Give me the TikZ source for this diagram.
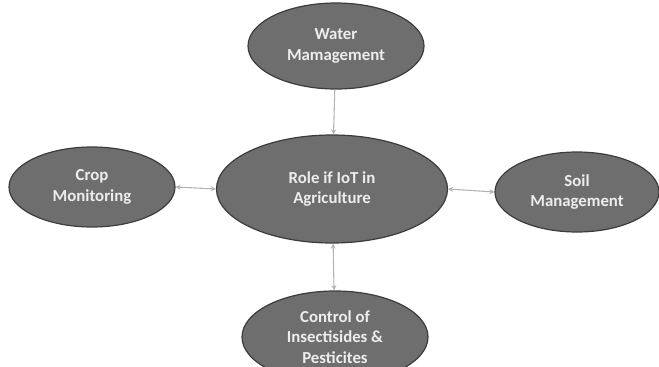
\documentclass[tikz,border=0pt]{standalone}
\usepackage{fontspec}
\setmainfont{Carlito}
\usetikzlibrary{shapes.geometric,arrows.meta}
\definecolor{fillgray}{HTML}{6E6E6E}
\definecolor{edgegray}{HTML}{3C3C3C}
\definecolor{txtgray}{HTML}{EDEDED}
\definecolor{arrgray}{HTML}{B4B4B4}
\begin{document}
\begin{tikzpicture}[x=1pt,y=-1pt,
  blob/.style={ellipse,fill=fillgray,draw=edgegray,line width=1.2pt,
    text=txtgray,font=\fontsize{16.8}{20.5}\selectfont\bfseries,align=center,inner sep=0pt},
  link/.style={draw=arrgray,line width=1.1pt,{Stealth[length=5pt,width=5pt]}-{Stealth[length=5pt,width=5pt]}},
  link1/.style={draw=arrgray,line width=1.1pt,-{Stealth[length=5pt,width=5pt]}}]
\useasboundingbox (0,0) rectangle (659,367);
\clip (0,0) rectangle (659,367);
\node[blob,minimum width=176pt,minimum height=86pt] (water) at (336,46) {Water\\Mamagement};
\node[blob,minimum width=166pt,minimum height=80pt] (crop) at (92,187) {Crop\\Monitoring};
\node[blob,minimum width=231pt,minimum height=108pt] (role) at (332,189) {Role if IoT in\\Agriculture};
\node[blob,minimum width=164pt,minimum height=80pt] (soil) at (577,192) {Soil\\Management};
\node[blob,minimum width=186pt,minimum height=92pt] (ctrl) at (335,337) {Control of\\Insectisides \&\\Pesticites};
\draw[link1] (water) -- (role);
\draw[link] (crop.east) -- (role.west);
\draw[link] (role.east) -- (soil.west);
\draw[link] (role) -- (ctrl);
\end{tikzpicture}
\end{document}
